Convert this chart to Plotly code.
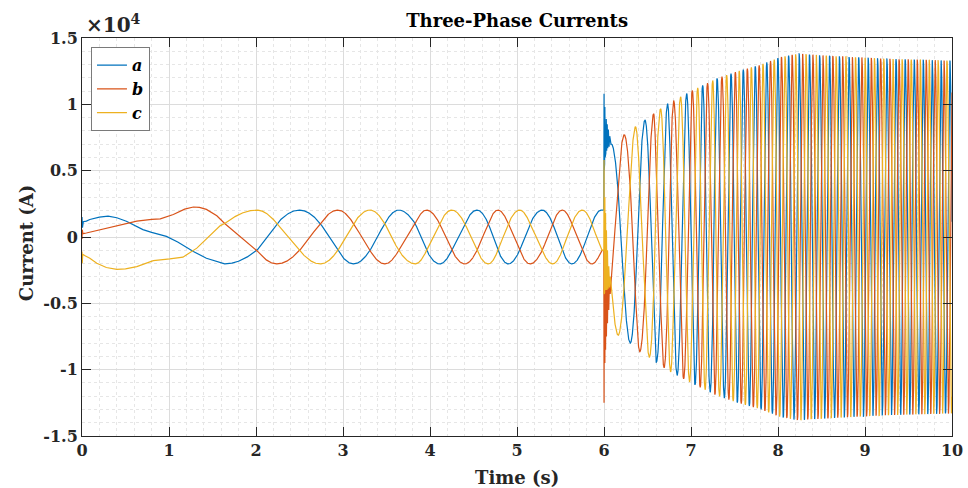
import numpy as np
import plotly.graph_objects as go

# ---------------- data ----------------
# start-up transient (0 .. 1.64 s), explicit points per phase
a_start_t = [0.0, 0.005, 0.015, 0.05, 0.09, 0.2, 0.3, 0.4, 0.51, 0.6, 0.7, 0.8, 0.9, 0.97, 1.1, 1.28, 1.43, 1.55]
a_start_v = [1500, 700, 1150, 1200, 1320, 1500, 1580, 1450, 1190, 880, 560, 350, 200, 50, -380, -1090, -1600, -1880]
b_start_t = [0.0, 0.003, 0.01, 0.05, 0.32, 0.63, 0.8, 0.9, 1.05, 1.18, 1.28, 1.35, 1.43, 1.55]
b_start_v = [-150, 550, 250, 300, 690, 1190, 1330, 1370, 1700, 2100, 2260, 2230, 2080, 1600]
c_start_t = [0.0, 0.003, 0.008, 0.03, 0.09, 0.17, 0.28, 0.4, 0.5, 0.63, 0.82, 1.01, 1.16, 1.32, 1.45, 1.59]
c_start_v = [-1090, -1980, -1300, -1400, -1600, -1980, -2300, -2440, -2400, -2230, -1780, -1650, -1520, -840, -50, 860]

# times of successive extrema (one every 60 electrical degrees) before the step at 6 s
pre_mark_t = [1.64, 2.01, 2.24, 2.50, 2.74, 2.94, 3.12, 3.31, 3.48, 3.64, 3.83, 3.96, 4.11, 4.25,
              4.40, 4.54, 4.67, 4.78, 4.90, 5.03, 5.15, 5.29, 5.41, 5.52, 5.63, 5.75, 5.86, 5.97]
pre_mark_k = list(range(3, 31))
amp_pre = 2030

# disturbance at 6 s, explicit points per phase
a_tr_t = [6.0005, 6.002, 6.004, 6.007, 6.010, 6.013, 6.017, 6.021, 6.026, 6.031, 6.037, 6.043, 6.050, 6.058, 6.066, 6.073]
a_tr_v = [10800, 5000, 10200, 5500, 9800, 6000, 9300, 6300, 8900, 6500, 8500, 6700, 8100, 6800, 7600, 7000]
b_tr_t = [6.0005, 6.002, 6.004, 6.007, 6.010, 6.014, 6.018, 6.023, 6.028, 6.034, 6.040, 6.047, 6.055, 6.063, 6.071]
b_tr_v = [-12500, -3000, -11000, -3500, -9500, -3500, -8500, -3300, -7500, -3000, -6500, -3000, -5500, -3000, -4300]
c_tr_t = [6.0005, 6.002, 6.004, 6.007, 6.010, 6.014, 6.018, 6.023, 6.028, 6.034, 6.040, 6.047, 6.055, 6.063, 6.071]
c_tr_v = [5800, -4300, 4300, -4200, 3000, -4000, 1800, -4000, 500, -4000, -1000, -3900, -2200, -3800, -3000]

# extrema times after the step
post_mark_t = [6.08, 6.16, 6.23, 6.30, 6.36, 6.41, 6.47, 6.52, 6.57, 6.60, 6.65, 6.69, 6.73,
               6.80, 6.88, 6.95, 7.015, 7.077, 7.134, 7.19, 7.25, 7.30, 7.356, 7.41, 7.46, 7.51, 7.555]
post_mark_k = [0, 1, 2, 3, 4, 5, 6, 7, 8, 9, 10, 11, 12,
               14, 16, 18, 20, 22, 24, 26, 28, 30, 32, 34, 36, 38, 40]
# electrical frequency in the dense part (Hz)
tail_freq_t = [7.555, 8.0, 8.5, 9.0, 9.5, 10.0]
tail_freq_hz = [7.0, 8.0, 8.7, 9.2, 9.6, 9.9]
# envelope after the step (A)
env_t = [6.08, 6.16, 6.23, 6.30, 6.36, 6.41, 6.47, 6.57, 6.73, 7.015, 7.30, 7.555, 7.79, 8.02, 8.23, 8.46, 8.86, 9.25, 9.65, 10.0]
env_v = [7000, 7400, 7700, 8000, 8300, 8650, 8800, 9300, 10040, 11040, 11960, 12530, 12960, 13540, 13810, 13710, 13560, 13430, 13360, 13290]

x_ticks = [0, 1, 2, 3, 4, 5, 6, 7, 8, 9, 10]
x_tick_text = ["0", "1", "2", "3", "4", "5", "6", "7", "8", "9", "10"]
y_ticks = [-15000, -10000, -5000, 0, 5000, 10000, 15000]
y_tick_text = ["-1.5", "-1", "-0.5", "0", "0.5", "1", "1.5"]

names = ["a", "b", "c"]
colors = ["#0072BD", "#D95319", "#EDB120"]

# ---------------- build the traces ----------------
t1 = np.arange(1.64, 6.0, 0.002)
phi1 = np.interp(t1, pre_mark_t, pre_mark_k) * np.pi / 3

t2 = np.arange(6.08, 10.0005, 0.001)
phi2 = np.interp(t2, post_mark_t, post_mark_k) * np.pi / 3
tail = t2 > post_mark_t[-1]
f = np.interp(t2, tail_freq_t, tail_freq_hz)
dphi = np.zeros_like(t2)
dphi[1:] = 2 * np.pi * 0.5 * (f[1:] + f[:-1]) * np.diff(t2)
cum = np.cumsum(np.where(tail, dphi, 0.0))
phi2 = np.where(tail, post_mark_k[-1] * np.pi / 3 + cum, phi2)
amp2 = np.interp(t2, env_t, env_v)

starts = [(a_start_t, a_start_v), (b_start_t, b_start_v), (c_start_t, c_start_v)]
trans = [(a_tr_t, a_tr_v), (b_tr_t, b_tr_v), (c_tr_t, c_tr_v)]

fig = go.Figure()
for i in range(3):
    shift = i * 2 * np.pi / 3
    y1 = amp_pre * np.cos(phi1 - shift)
    y2 = amp2 * np.cos(phi2 - shift)
    xs = np.concatenate([starts[i][0], t1, trans[i][0], t2])
    ys = np.concatenate([starts[i][1], y1, trans[i][1], y2])
    fig.add_trace(go.Scatter(x=xs, y=ys, mode="lines", name=names[i],
                             line=dict(color=colors[i], width=1.2)))

FONT = "DejaVu Serif"
axis_common = dict(
    showline=True, linecolor="#262626", linewidth=1, mirror="ticks",
    ticks="inside", ticklen=9, tickcolor="#262626", tickwidth=1,
    showgrid=True, gridcolor="#dcdcdc", gridwidth=1, zeroline=False, automargin=False,
    tickfont=dict(family=FONT, size=16, color="#262626", weight="bold"),
)
fig.update_xaxes(range=[0, 10], tickvals=x_ticks, ticktext=x_tick_text,
                 minor=dict(dtick=0.2, showgrid=True, gridcolor="#e6e6e6", griddash="dot", ticks=""),
                 **axis_common)
fig.update_yaxes(range=[-15000, 15000], tickvals=y_ticks, ticktext=y_tick_text,
                 minor=dict(dtick=1000, showgrid=True, gridcolor="#e6e6e6", griddash="dot", ticks=""),
                 **axis_common)

fig.update_layout(
    width=968, height=488, autosize=False,
    margin=dict(l=82, r=16, t=38, b=52),
    paper_bgcolor="white", plot_bgcolor="white",
    title=dict(text="Three-Phase Currents", x=0.5342, xanchor="center", y=0.957, yanchor="middle",
               font=dict(family=FONT, size=18, color="black", weight="bold")),
    legend=dict(x=0.0103, y=0.977, xanchor="left", yanchor="top",
                bgcolor="white", bordercolor="#7a7a7a", borderwidth=1,
                font=dict(family=FONT, size=16, color="black", weight="bold", style="italic"),
                tracegroupgap=0),
    showlegend=True,
    annotations=[
        dict(text="Current (A)", xref="paper", yref="paper", x=-0.0644, y=0.487,
             textangle=-90, showarrow=False, xanchor="center", yanchor="middle",
             font=dict(family=FONT, size=18, color="#262626", weight="bold")),
        dict(text="Time (s)", xref="paper", yref="paper", x=0.5, y=-0.1055,
             showarrow=False, xanchor="center", yanchor="middle",
             font=dict(family=FONT, size=18, color="#262626", weight="bold")),
        dict(text="×10<sup>4</sup>", xref="paper", yref="paper", x=0.002, y=1.035,
             showarrow=False, xanchor="left", yanchor="middle",
             font=dict(family=FONT, size=20, color="#262626", weight="bold")),
    ],
)

fig.write_html("out.html")
